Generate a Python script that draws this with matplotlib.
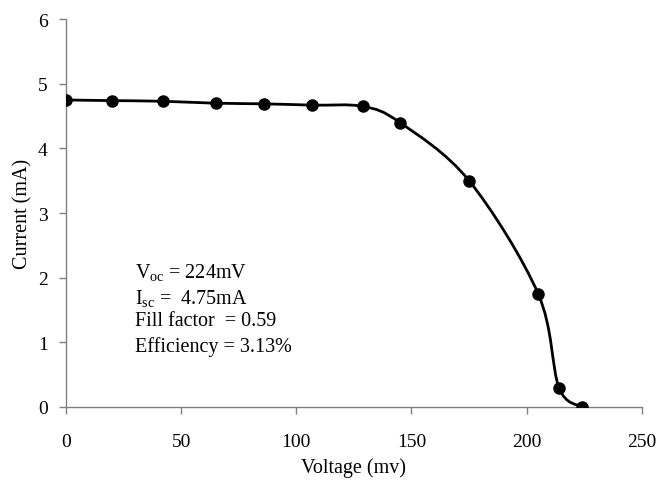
import matplotlib
matplotlib.use("Agg")
import matplotlib.pyplot as plt
from matplotlib.path import Path
from matplotlib.patches import PathPatch
import numpy as np

voltage = [0, 20, 42, 65, 86, 107, 129, 145, 175, 205, 214, 224]
current = [4.75, 4.74, 4.73, 4.70, 4.69, 4.67, 4.65, 4.40, 3.50, 1.75, 0.30, 0.0]
x_ticks = [0, 50, 100, 150, 200, 250]
y_ticks = [0, 1, 2, 3, 4, 5, 6]
info_lines = [r"V$_{\mathrm{oc}}$ = 224mV", r"I$_{\mathrm{sc}}$ =  4.75mA",
              "Fill factor  = 0.59", "Efficiency = 3.13%"]

plt.rcParams['font.family'] = ['Liberation Serif', 'DejaVu Serif']
plt.rcParams['mathtext.fontset'] = 'custom'
plt.rcParams['mathtext.rm'] = 'Liberation Serif'
plt.rcParams['mathtext.it'] = 'Liberation Serif:italic'

fig = plt.figure(figsize=(6.59, 4.81), dpi=100)
ax = fig.add_axes([0.100, 0.152, 0.874, 0.806])

# smooth curve (Catmull-Rom style cubic Bezier through the data points)
pts = np.column_stack([voltage, current]).astype(float)
n = len(pts)
verts = [pts[0]]
codes = [Path.MOVETO]
for i in range(n - 1):
    p0 = pts[i - 1] if i > 0 else pts[i]
    p1 = pts[i]
    p2 = pts[i + 1]
    p3 = pts[i + 2] if i + 2 < n else pts[i + 1]
    c1 = p1 + (p2 - p0) / 6.0
    c2 = p2 - (p3 - p1) / 6.0
    verts += [c1, c2, p2]
    codes += [Path.CURVE4] * 3
ax.add_patch(PathPatch(Path(verts, codes), facecolor='none', edgecolor='black', lw=2.0, zorder=2))
ax.plot(voltage, current, linestyle='none', marker='o', color='black', markersize=8, zorder=3)

ax.set_xlim(0, 250)
ax.set_ylim(0, 6)
ax.set_xticks(x_ticks)
ax.set_yticks(y_ticks)
ax.tick_params(axis='both', labelsize=14, colors='#808080', labelcolor='black', length=5, width=1)
ax.tick_params(axis='x', pad=14)
ax.tick_params(axis='y', pad=8)
for s in ['top', 'right']:
    ax.spines[s].set_visible(False)
for s in ['left', 'bottom']:
    ax.spines[s].set_color('#808080')
    ax.spines[s].set_linewidth(1)

ax.set_xlabel('Voltage (mv)', fontsize=14.5, labelpad=5)
ax.set_ylabel('Current (mA)', fontsize=14.5, labelpad=4)

y_pos = [2.10, 1.70, 1.33, 0.94]
for t, yy in zip(info_lines, y_pos):
    ax.text(30, yy, t, fontsize=14.5, va='center', ha='left')

fig.savefig('out.png', dpi=100)
